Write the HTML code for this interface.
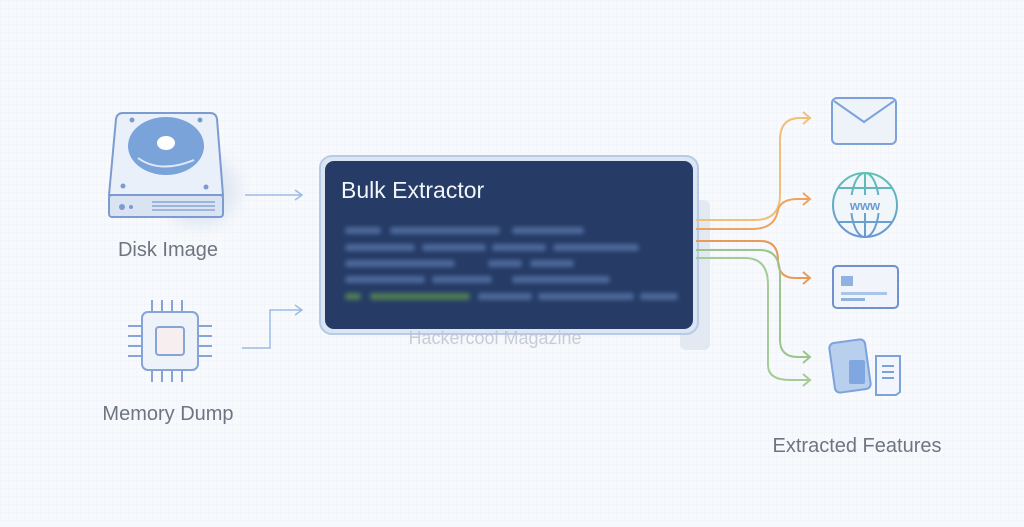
<!DOCTYPE html>
<html><head><meta charset="utf-8"><style>
html,body{margin:0;padding:0}
body{width:1024px;height:522px;background:#f6f8fb;font-family:"Liberation Sans","DejaVu Sans",sans-serif;overflow:hidden}
</style></head><body>
<svg width="1024" height="522" viewBox="0 0 1024 522" xmlns="http://www.w3.org/2000/svg">
<defs>
<pattern id="g" width="8" height="8" patternUnits="userSpaceOnUse"><path d="M8 0H0V8" fill="none" stroke="#eef1f6" stroke-width="1"/></pattern>
<filter id="b" x="-20%" y="-50%" width="140%" height="200%"><feGaussianBlur stdDeviation="2.2"/></filter>
<filter id="s" x="-50%" y="-50%" width="200%" height="200%"><feGaussianBlur stdDeviation="8"/></filter>
<linearGradient id="gl" x1="0" y1="0" x2="0" y2="1"><stop offset="0" stop-color="#5fc1b2"/><stop offset="1" stop-color="#6b96d8"/></linearGradient>
</defs>
<rect width="1024" height="522" fill="#f7f9fc"/>
<rect width="1024" height="522" fill="url(#g)"/>

<!-- Disk -->
<g>
<ellipse cx="200" cy="190" rx="38" ry="36" fill="#dfe7f3" filter="url(#s)"/>
<path d="M123 113 L210 113 Q216 113 217 119 L223 195 L109 195 L116 119 Q117 113 123 113 Z" fill="#eaf0f9" stroke="#7c9bd1" stroke-width="2"/>
<rect x="109" y="195" width="114" height="22" rx="3" fill="#d9e3f2" stroke="#7c9bd1" stroke-width="2"/>
<ellipse cx="166" cy="146" rx="38" ry="29" fill="#7aa3da"/>
<path d="M138 158 Q160 174 194 160" fill="none" stroke="#dfe9f7" stroke-width="2"/>
<ellipse cx="166" cy="143" rx="9" ry="7" fill="#fff"/>
<circle cx="132" cy="120" r="2.5" fill="#7c9bd1"/><circle cx="200" cy="120" r="2.5" fill="#7c9bd1"/>
<circle cx="123" cy="186" r="2.5" fill="#7c9bd1"/><circle cx="206" cy="187" r="2.5" fill="#7c9bd1"/>
<circle cx="122" cy="207" r="3" fill="#7c9bd1"/><circle cx="131" cy="207" r="2" fill="#7c9bd1"/>
<path d="M152 202H215M152 206H215M152 210H215" stroke="#7c9bd1" stroke-width="1.3"/>
</g>
<text x="168" y="256" font-size="20" fill="#6e7480" text-anchor="middle">Disk Image</text>

<!-- Chip -->
<g stroke="#86a4d6" stroke-width="2" fill="none">
<path d="M152 300v12M162 300v12M172 300v12M182 300v12M152 370v12M162 370v12M172 370v12M182 370v12"/>
<path d="M128 326h14M128 336h14M128 346h14M128 356h14M198 326h14M198 336h14M198 346h14M198 356h14"/>
<rect x="142" y="312" width="56" height="58" rx="6" fill="#eef2f9"/>
<rect x="156" y="327" width="28" height="28" rx="3" fill="#f7eef0"/>
</g>
<text x="168" y="420" font-size="20" fill="#6e7480" text-anchor="middle">Memory Dump</text>

<!-- input arrows -->
<g stroke="#9dbbe3" stroke-width="1.5" fill="none">
<path d="M245 195H302M295 190l7 5-7 5"/>
<path d="M242 348H270V310H302M295 305l7 5-7 5"/>
</g>

<!-- main box -->
<rect x="680" y="200" width="30" height="150" rx="6" fill="#e3e9f3"/>
<rect x="320" y="156" width="378" height="178" rx="12" fill="#dbe5f3" stroke="#b8cbe6" stroke-width="2"/>
<rect x="325" y="161" width="368" height="168" rx="9" fill="#263c66"/>
<text x="341" y="198" font-size="23" fill="#f2f5fa">Bulk Extractor</text>
<g fill="#5370a3" filter="url(#b)" opacity="0.85">
<rect x="345" y="227" width="36" height="7" rx="3"/><rect x="390" y="227" width="110" height="7" rx="3"/><rect x="512" y="227" width="72" height="7" rx="3"/>
<rect x="345" y="244" width="70" height="7" rx="3"/><rect x="422" y="244" width="64" height="7" rx="3"/><rect x="492" y="244" width="54" height="7" rx="3"/><rect x="553" y="244" width="86" height="7" rx="3"/>
<rect x="345" y="260" width="110" height="7" rx="3"/><rect x="488" y="260" width="34" height="7" rx="3"/><rect x="530" y="260" width="44" height="7" rx="3"/>
<rect x="345" y="276" width="80" height="7" rx="3"/><rect x="432" y="276" width="60" height="7" rx="3"/><rect x="512" y="276" width="98" height="7" rx="3"/>
<rect x="478" y="293" width="54" height="7" rx="3"/><rect x="538" y="293" width="96" height="7" rx="3"/><rect x="640" y="293" width="38" height="7" rx="3"/>
</g>
<g fill="#4f7a55" filter="url(#b)"><rect x="345" y="293" width="16" height="7" rx="3"/><rect x="370" y="293" width="100" height="7" rx="3"/></g>
<text x="495" y="344" font-size="18" fill="#bfc5d0" text-anchor="middle" opacity="0.85">Hackercool Magazine</text>

<!-- outgoing connectors -->
<g fill="none" stroke-width="2">
<path d="M696 220H755Q780 220 780 195V140Q780 118 800 118H810M803 112l7 6-7 6" stroke="#f0bf78"/>
<path d="M696 229H752Q775 229 778 210Q781 199 798 199H810M803 193l7 6-7 6" stroke="#eda461"/>
<path d="M696 241H760Q778 241 778 260Q778 278 795 278H810M803 272l7 6-7 6" stroke="#e89a5a"/>
<path d="M696 250H760Q780 250 780 275V340Q780 357 798 357H810M803 351l7 6-7 6" stroke="#9bc58e"/>
<path d="M696 258H745Q768 258 768 285V365Q768 380 790 380H810M803 374l7 6-7 6" stroke="#a5cb98"/>
</g>

<!-- envelope -->
<rect x="832" y="98" width="64" height="46" rx="5" fill="#eef3fa" stroke="#7ca3d9" stroke-width="2"/>
<path d="M834 101L864 122L894 101" fill="none" stroke="#7ca3d9" stroke-width="2"/>
<!-- globe -->
<g fill="none" stroke="url(#gl)" stroke-width="2">
<circle cx="865" cy="205" r="32" fill="#f1f6fb"/>
<ellipse cx="865" cy="205" rx="14" ry="32"/>
<path d="M865 173V237M838 188H892M838 222H892"/>
</g>
<rect x="838" y="195" width="54" height="18" fill="#f1f6fb"/>
<text x="865" y="210" font-size="13" font-weight="bold" fill="#6b9bd6" text-anchor="middle">www</text>
<!-- card -->
<rect x="833" y="266" width="65" height="42" rx="4" fill="#f1f5fb" stroke="#6f92cc" stroke-width="2"/>
<rect x="841" y="276" width="12" height="10" fill="#8fb2e0"/>
<rect x="841" y="292" width="46" height="3" fill="#a9c6ea"/>
<rect x="841" y="298" width="24" height="3" fill="#8fb2e0"/>
<!-- docs -->
<rect x="832" y="341" width="36" height="50" rx="5" fill="#b8cfee" stroke="#7ca3d9" stroke-width="2" transform="rotate(-8 850 366)"/>
<rect x="849" y="360" width="16" height="24" rx="2" fill="#80a7df"/>
<path d="M876 356H900V392L896 395H876Z" fill="#f2f6fc" stroke="#7ca3d9" stroke-width="2"/>
<path d="M882 366H894M882 372H894M882 378H894" stroke="#7ca3d9" stroke-width="2"/>

<text x="857" y="452" font-size="20" fill="#6e7480" text-anchor="middle">Extracted Features</text>
</svg>
</body></html>
